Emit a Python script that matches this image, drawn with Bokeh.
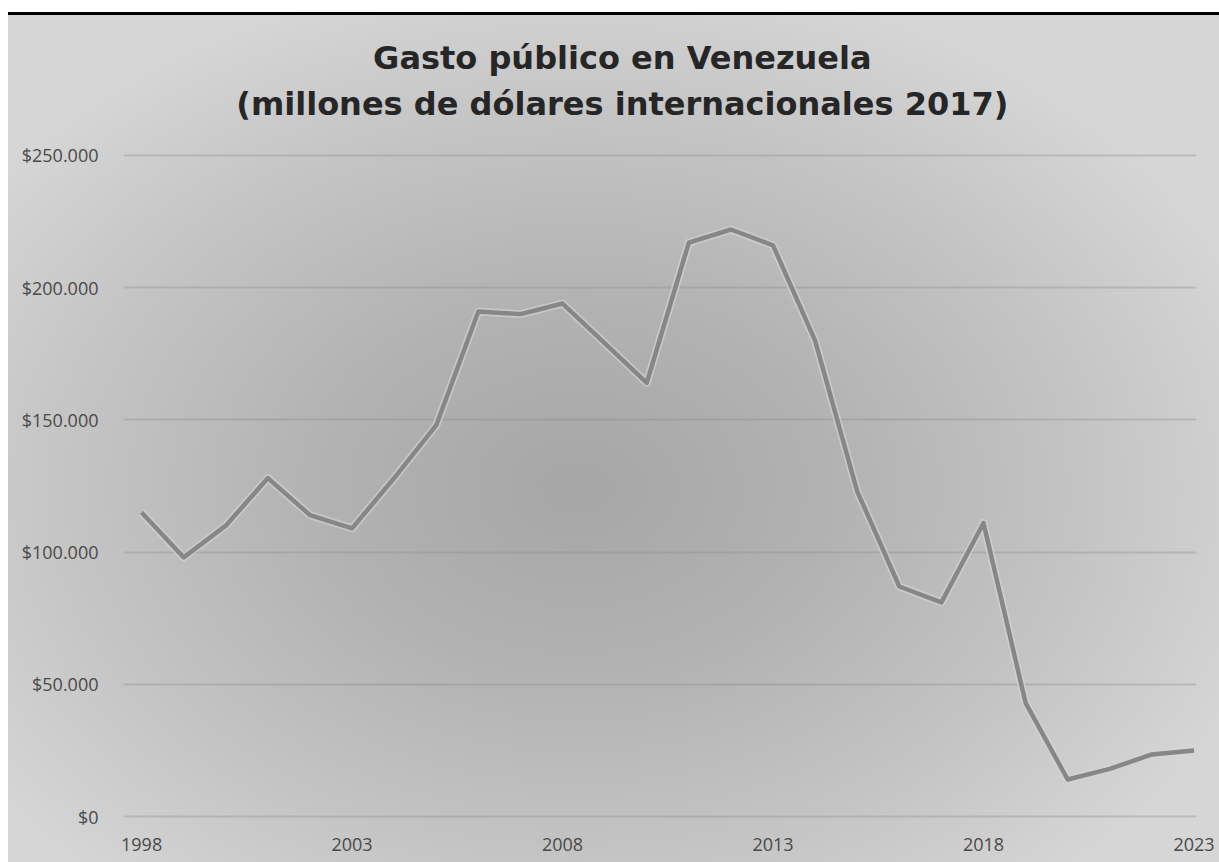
from bokeh.plotting import figure
from bokeh.layouts import column
from bokeh.models import FixedTicker
from bokeh.core.properties import value
from bokeh.embed import file_html
from bokeh.resources import INLINE

# ---- data ----
years = list(range(1998, 2024))
gasto = [115000, 98000, 110000, 128000, 114000, 109000, 128000, 148000,
         191000, 190000, 194000, 179000, 164000, 217000, 222000, 216000,
         180000, 123000, 87000, 81000, 111000, 43000, 14000, 18000,
         23500, 25000]
x_ticks = [1998, 2003, 2008, 2013, 2018, 2023]
y_ticks = [0, 50000, 100000, 150000, 200000, 250000]
y_tick_labels = ["$0", "$50.000", "$100.000", "$150.000", "$200.000", "$250.000"]
title_lines = ["Gasto público en Venezuela",
               "(millones de dólares internacionales 2017)"]

# ---- layout (pixels) ----
W = 1211
TH = 120                 # height of the title strip
H = 730                  # height of the chart
B_LEFT, B_RIGHT, B_TOP, B_BOTTOM = 115, 23, 19, 42

# ---- title strip: a bare figure whose frame is the whole strip ----
tf = figure(width=W, height=TH, x_range=(0, W), y_range=(0, TH),
            x_axis_type=None, y_axis_type=None,
            output_backend="svg", toolbar_location=None, min_border=0)
tf.grid.visible = False
tf.outline_line_color = None
tf.background_fill_color = None
tf.border_fill_color = None
tf.text(x=[563, 563], y=[TH - 45, TH - 91], text=title_lines,
        text_align="center", text_baseline="middle",
        text_font=value("DejaVu Sans"), text_font_size="32px",
        text_font_style="bold", text_color="#262626")

# ---- chart ----
p = figure(width=W, height=H, x_range=(1997.57, 2023.06), y_range=(-1500, 251500),
           output_backend="svg", toolbar_location=None,
           min_border_left=B_LEFT, min_border_right=B_RIGHT,
           min_border_top=B_TOP, min_border_bottom=B_BOTTOM)
p.background_fill_color = None
p.border_fill_color = None
p.outline_line_color = None

p.xgrid.grid_line_color = None
p.ygrid.grid_line_color = "#8a8a8a"
p.ygrid.grid_line_alpha = 0.35
p.ygrid.grid_line_width = 2

p.xaxis.ticker = FixedTicker(ticks=x_ticks)
p.yaxis.ticker = FixedTicker(ticks=y_ticks)
p.yaxis.major_label_overrides = {v: s for v, s in zip(y_ticks, y_tick_labels)}
for ax in (p.xaxis[0], p.yaxis[0]):
    ax.axis_line_color = None
    ax.major_tick_line_color = None
    ax.minor_tick_line_color = None
    ax.major_tick_out = 0
    ax.major_tick_in = 0
    ax.major_label_text_font = "Open Sans"
    ax.major_label_text_font_size = "18px"
    ax.major_label_text_color = "#4a4a4a"
p.xaxis.major_label_standoff = 17
p.yaxis.major_label_standoff = 25

# line with a subtle light emboss halo
p.line(years, gasto, line_color="#d6d6d6", line_alpha=0.6, line_width=8,
       line_join="round")
p.line(years, gasto, line_color="#878787", line_width=4.5, line_join="round")

layout = column(tf, p, spacing=0)
layout.margin = (12, 0, 0, 8)
layout.styles = {
    "background": ("linear-gradient(#000000, #000000) top left / 100% 3px no-repeat, "
                   "radial-gradient(ellipse 60% 62% at 47% 56%, #a6a6a6 0%, #b2b2b2 35%, "
                   "#c4c4c4 70%, #d6d6d6 100%)"),
}

open("out.html", "w").write(file_html(layout, INLINE))
